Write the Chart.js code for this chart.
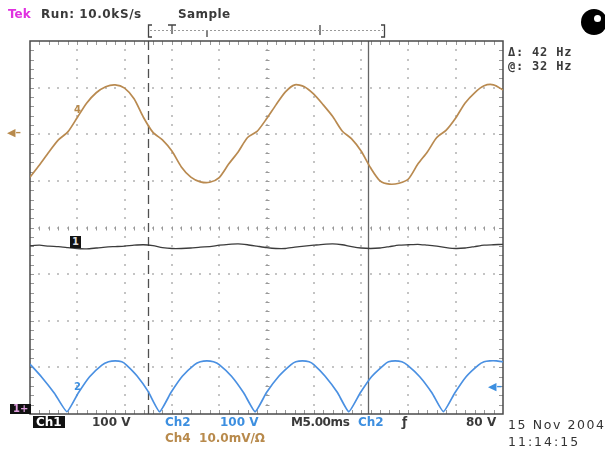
<!DOCTYPE html>
<html>
<head>
<meta charset="utf-8">
<script src="https://cdn.jsdelivr.net/npm/chart.js@4.4.1/dist/chart.umd.min.js"></script>
<style>
  body { margin: 0; background: #fff; font-family: "DejaVu Sans", sans-serif; }
  #wrap { position: absolute; left: 0; top: 0; width: 605px; height: 454px; overflow: hidden; }
  .t { position: absolute; white-space: nowrap; line-height: 1; font-size: 12px; font-weight: bold; color: #3a3a3a; }
  .mono { font-family: "DejaVu Sans Mono", monospace; letter-spacing: 0.8px; }
  .blue { color: #3d8fe0; }
  .orange { color: #b88a4c; }
  .date { font-weight: normal; font-size: 12.5px; letter-spacing: 1.6px; color: #333; }
  .inv { background: #111; color: #fff; padding: 0 3px; }
  .logo { position: absolute; left: 581px; top: 9px; width: 26px; height: 26px; border-radius: 50%; background: #000; }
  .logo::after { content: ""; position: absolute; left: 13px; top: 6px; width: 7px; height: 7px; border-radius: 50%; background: #fff; }
</style>
</head>
<body>
<div id="wrap">
  <canvas id="scope" width="605" height="454"></canvas>

  <div class="t" style="left:8px;top:8px;color:#e030e0;">Tek</div>
  <div class="t" style="left:41px;top:8px;letter-spacing:0.6px;">Run: 10.0kS/s</div>
  <div class="t" style="left:178px;top:8px;letter-spacing:0.4px;">Sample</div>
  <div class="logo"></div>

  <div class="t mono" style="left:508px;top:46px;">Δ: 42 Hz</div>
  <div class="t mono" style="left:508px;top:60px;">@: 32 Hz</div>

  <div class="t inv" style="left:10px;top:404px;font-size:10px;color:#e0a0e0;">1+</div>
  <div class="t" style="left:70px;top:236px;font-size:10px;background:#111;color:#ddd;padding:1px 2px;">1</div>
  <div class="t orange" style="left:7px;top:127px;font-size:11px;">◀–</div>
  <div class="t orange" style="left:74px;top:105px;font-size:10px;">4</div>
  <div class="t blue" style="left:74px;top:382px;font-size:10px;">2</div>
  <div class="t blue" style="left:488px;top:381px;font-size:11px;">◀–</div>

  <div class="t inv" style="left:33px;top:416px;">Ch1</div>
  <div class="t" style="left:92px;top:416px;">100 V</div>
  <div class="t blue" style="left:165px;top:416px;">Ch2</div>
  <div class="t blue" style="left:220px;top:416px;">100 V</div>
  <div class="t" style="left:291px;top:416px;letter-spacing:-0.4px;">M5.00ms</div>
  <div class="t blue" style="left:358px;top:416px;">Ch2</div>
  <div class="t" style="left:402px;top:416px;">ƒ</div>
  <div class="t" style="left:466px;top:416px;">80 V</div>
  <div class="t orange" style="left:165px;top:432px;">Ch4&nbsp;&nbsp;10.0mV/Ω</div>
  <div class="t date" style="left:508px;top:419px;">15 Nov 2004</div>
  <div class="t date" style="left:508px;top:436px;letter-spacing:2px;">11:14:15</div>
</div>

<script>
// time in ms (10 divisions x 5 ms), values in graticule divisions
const times = [0, 1, 2, 3, 4, 5, 6, 7, 8, 9, 10, 11, 12, 13, 14, 15, 16, 17, 18, 19, 20,
  21, 22, 23, 24, 25, 26, 27, 28, 29, 30, 31, 32, 33, 34, 35, 36, 37, 38, 39, 40,
  41, 42, 43, 44, 45, 46, 47, 48, 49, 50];

const ch4Values = [1.08, 1.34, 1.62, 1.88, 2.05, 2.36, 2.67, 2.89, 3.02, 3.06, 2.99,
  2.76, 2.36, 2.04, 1.88, 1.64, 1.30, 1.08, 0.98, 0.97, 1.07,
  1.36, 1.62, 1.93, 2.06, 2.33, 2.63, 2.91, 3.06, 3.02, 2.86,
  2.63, 2.38, 2.07, 1.90, 1.64, 1.28, 1.00, 0.93, 0.95, 1.04,
  1.36, 1.62, 1.93, 2.09, 2.35, 2.67, 2.89, 3.04, 3.06, 2.95];

const ch1Values = [-0.39, -0.38, -0.40, -0.41, -0.43, -0.45, -0.46, -0.44, -0.42, -0.41, -0.40,
  -0.38, -0.37, -0.39, -0.43, -0.45, -0.45, -0.44, -0.42, -0.41, -0.38,
  -0.36, -0.35, -0.37, -0.40, -0.43, -0.45, -0.45, -0.42, -0.40, -0.38,
  -0.36, -0.35, -0.37, -0.41, -0.44, -0.45, -0.44, -0.41, -0.38, -0.37,
  -0.36, -0.38, -0.40, -0.43, -0.45, -0.44, -0.41, -0.38, -0.37, -0.36];

const ch2Times = [0, 1.2, 2.6, 3.9, 5.1, 6.3, 7.6, 8.3, 9.0, 9.7, 10.2, 11.3, 12.5, 13.7,
  14.9, 16.1, 17.4, 18.0, 18.7, 19.4, 20.0, 21.3, 22.6, 23.8,
  25.0, 26.3, 27.6, 28.1, 28.8, 29.5, 30.0, 31.2, 32.5, 33.7,
  34.9, 36.1, 37.4, 37.9, 38.6, 39.3, 39.9, 41.2, 42.5, 43.7,
  44.9, 46.1, 47.4, 48.0, 48.6, 49.3, 50];
const ch2Values = [-2.93, -3.20, -3.56, -3.95, -3.55, -3.20, -2.95, -2.88, -2.86, -2.88, -2.95, -3.18, -3.52, -3.95,
  -3.54, -3.19, -2.94, -2.88, -2.86, -2.88, -2.94, -3.19, -3.55, -3.95,
  -3.54, -3.19, -2.94, -2.88, -2.86, -2.88, -2.94, -3.19, -3.54, -3.95,
  -3.55, -3.20, -2.95, -2.88, -2.86, -2.88, -2.95, -3.20, -3.55, -3.95,
  -3.55, -3.20, -2.95, -2.88, -2.86, -2.86, -2.88];

const xTicks = [0, 5, 10, 15, 20, 25, 30, 35, 40, 45, 50];
const yTicks = [-4, -3, -2, -1, 0, 1, 2, 3, 4];
const cursorTimes = [12.45, 35.7];

const pts = (xs, ys) => xs.map((t, i) => ({ x: t, y: ys[i] }));

const graticule = {
  id: "graticule",
  beforeDatasetsDraw(chart) {
    const { ctx, chartArea: a, scales: { x, y } } = chart;
    ctx.save();
    // dotted graticule lines
    ctx.fillStyle = "#c4c4c4";
    xTicks.slice(1, -1).forEach(v => {
      const px = Math.round(x.getPixelForValue(v));
      for (let k = 1; k < 40; k++) {
        const py = y.getPixelForValue(-4 + k * 0.2);
        ctx.fillRect(px - 1, Math.round(py) - 1, 2, 2);
      }
    });
    yTicks.slice(1, -1).forEach(v => {
      const py = Math.round(y.getPixelForValue(v));
      for (let k = 1; k < 50; k++) {
        const px = x.getPixelForValue(k);
        ctx.fillRect(Math.round(px) - 1, py - 1, 2, 2);
      }
    });
    // ticks on centre lines and frame
    ctx.strokeStyle = "#999";
    ctx.lineWidth = 1;
    ctx.beginPath();
    const cx = Math.round(x.getPixelForValue(25)) + 0.5;
    const cy = Math.round(y.getPixelForValue(0)) + 0.5;
    for (let k = 1; k < 50; k++) {
      const px = Math.round(x.getPixelForValue(k)) + 0.5;
      ctx.moveTo(px, cy - 2); ctx.lineTo(px, cy + 2);
      ctx.moveTo(px, a.top); ctx.lineTo(px, a.top + 4);
      ctx.moveTo(px, a.bottom); ctx.lineTo(px, a.bottom - 4);
    }
    for (let k = 1; k < 40; k++) {
      const py = Math.round(y.getPixelForValue(-4 + k * 0.2)) + 0.5;
      ctx.moveTo(cx - 2, py); ctx.lineTo(cx + 2, py);
      ctx.moveTo(a.left, py); ctx.lineTo(a.left + 4, py);
      ctx.moveTo(a.right, py); ctx.lineTo(a.right - 4, py);
    }
    ctx.stroke();
    // cursors
    ctx.strokeStyle = "#505050";
    ctx.lineWidth = 1.3;
    ctx.setLineDash([9, 5]);
    ctx.beginPath();
    const c0 = Math.round(x.getPixelForValue(cursorTimes[0])) + 0.5;
    ctx.moveTo(c0, a.top); ctx.lineTo(c0, a.bottom);
    ctx.stroke();
    ctx.setLineDash([]);
    ctx.strokeStyle = "#666";
    ctx.beginPath();
    const c1 = Math.round(x.getPixelForValue(cursorTimes[1])) + 0.5;
    ctx.moveTo(c1, a.top); ctx.lineTo(c1, a.bottom);
    ctx.stroke();
    // frame
    ctx.strokeStyle = "#4a4a4a";
    ctx.lineWidth = 1.5;
    ctx.strokeRect(a.left, a.top, a.right - a.left, a.bottom - a.top);
    // record view bar on top
    ctx.strokeStyle = "#444";
    ctx.lineWidth = 1.3;
    ctx.beginPath();
    ctx.moveTo(152, 25); ctx.lineTo(148.5, 25); ctx.lineTo(148.5, 37); ctx.lineTo(152, 37);
    ctx.moveTo(381, 25); ctx.lineTo(384.5, 25); ctx.lineTo(384.5, 37); ctx.lineTo(381, 37);
    ctx.moveTo(168, 25); ctx.lineTo(176, 25); ctx.moveTo(172, 25); ctx.lineTo(172, 34);
    ctx.moveTo(207, 31); ctx.lineTo(207, 37);
    ctx.moveTo(320, 25); ctx.lineTo(320, 35);
    ctx.stroke();
    ctx.strokeStyle = "#999";
    ctx.lineWidth = 1;
    ctx.setLineDash([2, 2]);
    ctx.beginPath();
    ctx.moveTo(150, 30.5); ctx.lineTo(383, 30.5);
    ctx.stroke();
    ctx.restore();
  }
};

new Chart(document.getElementById("scope"), {
  type: "line",
  data: {
    datasets: [
      { label: "Ch4", data: pts(times, ch4Values), borderColor: "#b98a50", borderWidth: 1.7, tension: 0.25 },
      { label: "Ch1", data: pts(times, ch1Values), borderColor: "#3c3c3c", borderWidth: 1.3, tension: 0.2 },
      { label: "Ch2", data: pts(ch2Times, ch2Values), borderColor: "#4a90e2", borderWidth: 1.7, tension: 0.15 }
    ]
  },
  options: {
    responsive: false,
    animation: false,
    events: [],
    layout: { padding: { left: 30, right: 102, top: 41, bottom: 40 } },
    elements: { point: { radius: 0 } },
    plugins: { legend: { display: false }, tooltip: { enabled: false } },
    scales: {
      x: { type: "linear", min: 0, max: 50, display: false },
      y: { type: "linear", min: -4, max: 4, display: false }
    }
  },
  plugins: [graticule]
});
</script>
</body>
</html>
